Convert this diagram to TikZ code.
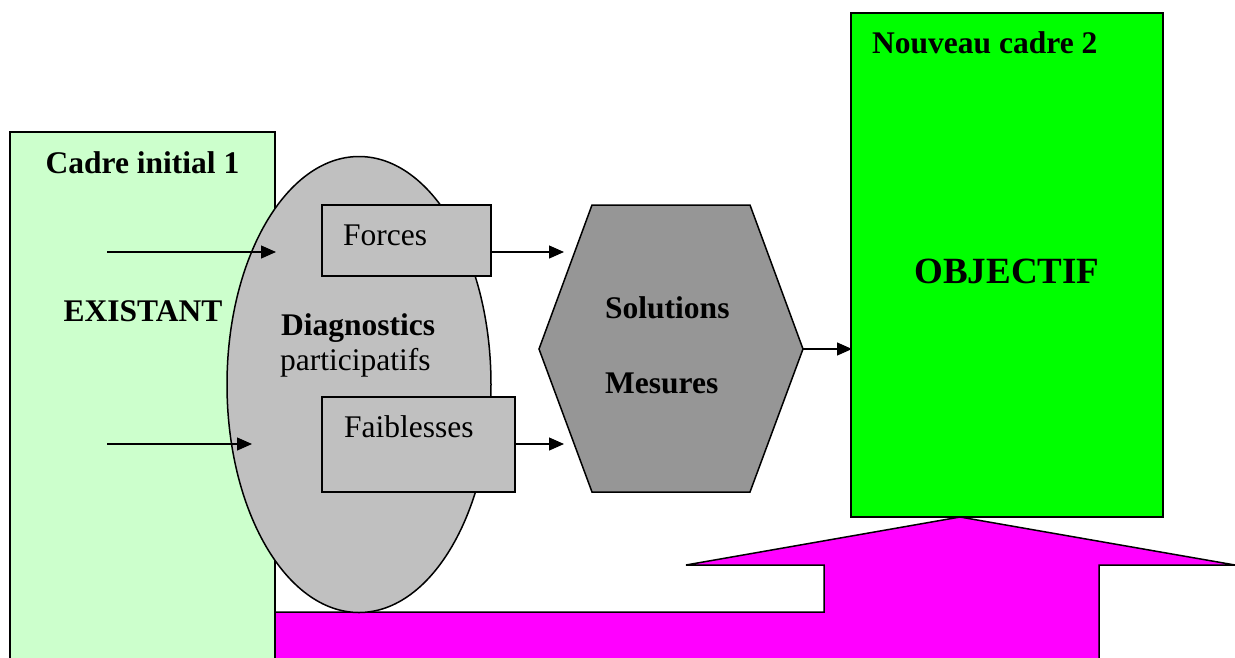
\documentclass[tikz,border=0pt]{standalone}
\usepackage{fontspec}
\setmainfont{Liberation Serif}
\usetikzlibrary{arrows.meta,shapes.geometric}
\definecolor{paleGreen}{HTML}{CCFFCC}
\definecolor{brightGreen}{HTML}{00FF00}
\definecolor{lightGrey}{HTML}{C0C0C0}
\definecolor{midGrey}{HTML}{969696}
\definecolor{magentaFill}{HTML}{FF00FF}
\tikzset{
  x=1pt, y=-1pt,
  shapeline/.style={draw=black, line width=1.5pt},
  lbl/.style={anchor=base west, inner sep=0pt, font=\fontsize{31.5}{36}\selectfont},
  blbl/.style={lbl, font=\fontsize{31.5}{36}\selectfont\bfseries},
  arr/.style={line width=1.3pt, -{Triangle[length=15pt,width=13pt]}},
}
\begin{document}
\begin{tikzpicture}
\useasboundingbox (0,0) rectangle (1235,657);
% left pale green frame
\draw[shapeline, fill=paleGreen] (10,680) -- (10,132) -- (275,132) -- (275,680);
% magenta big arrow
\draw[shapeline, fill=magentaFill] (275,680) -- (275,612) -- (824,612) -- (824,565) -- (686,565)
  -- (960,517) -- (1235,565) -- (1099,565) -- (1099,680);
% ellipse
\node[shapeline, fill=lightGrey, ellipse, minimum width=264pt, minimum height=456pt, inner sep=0pt] (diag) at (359,384.5) {};
% small boxes
\draw[shapeline, fill=lightGrey] (322,205) rectangle (491,276);
\node[inner sep=0pt] (forces) at (406.5,240.5) {};
\draw[shapeline, fill=lightGrey] (322,397) rectangle (515,492);
\node[inner sep=0pt] (faib) at (418.5,444.5) {};
% hexagon
\draw[shapeline, fill=midGrey] (592,205) -- (750,205) -- (803,349) -- (750,492) -- (592,492) -- (539,349) -- cycle;
% right green frame
\draw[shapeline, fill=brightGreen] (851,13) rectangle (1163,517);
% coordinates for connectors
\coordinate (a1s) at (107,252);
\coordinate (a1e) at (276,252);
\coordinate (a2s) at (107,444);
\coordinate (a2e) at (252,444);
\coordinate (fs) at (491,252);
\coordinate (fe) at (564,252);
\coordinate (ws) at (515,444);
\coordinate (we) at (564,444);
\coordinate (hs) at (803,349);
\coordinate (he) at (852,349);
\draw[arr] (a1s) -- (a1e);
\draw[arr] (a2s) -- (a2e);
\draw[arr] (fs) -- (fe);
\draw[arr] (ws) -- (we);
\draw[arr] (hs) -- (he);
% texts
\node[blbl, anchor=base] (t1) at (142.5,173) {Cadre initial 1};
\node[blbl, anchor=base] (t2) at (143,321) {EXISTANT};
\node[blbl] (t3) at (281,335) {Diagnostics};
\node[lbl] (t4) at (280,370) {participatifs};
\node[lbl] (t5) at (343,245) {Forces};
\node[lbl] (t6) at (344,437) {Faiblesses};
\node[blbl] (t7) at (605,318) {Solutions};
\node[blbl] (t8) at (605,393) {Mesures};
\node[blbl] (t9) at (872,53) {Nouveau cadre 2};
\node[inner sep=0pt, anchor=base, font=\fontsize{37}{42}\selectfont\bfseries] (t10) at (1007,283) {OBJECTIF};
\end{tikzpicture}
\end{document}
